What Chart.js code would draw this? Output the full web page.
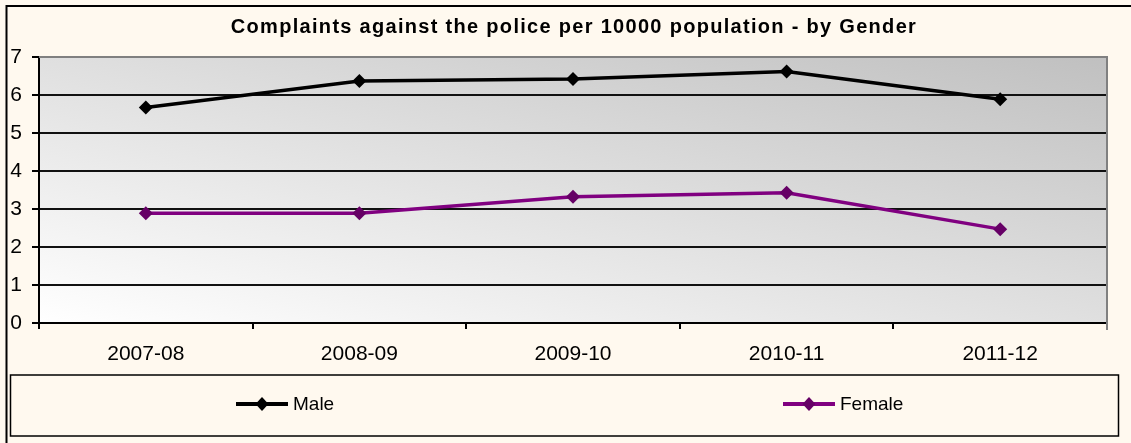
<!DOCTYPE html>
<html>
<head>
<meta charset="utf-8">
<script src="https://cdn.jsdelivr.net/npm/chart.js@4.4.0/dist/chart.umd.min.js"></script>
<style>
  html, body { margin: 0; padding: 0; background: #FFF9EF; }
  canvas { display: block; }
</style>
</head>
<body>
<canvas id="c" width="1131" height="443"></canvas>
<script>
const title = 'Complaints against the police per 10000 population - by Gender';
const categories = ['2007-08', '2008-09', '2009-10', '2010-11', '2011-12'];
const maleValues = [5.67, 6.37, 6.42, 6.62, 5.89];
const femaleValues = [2.89, 2.89, 3.32, 3.43, 2.47];
const seriesNames = ['Male', 'Female'];
const yTicks = [0, 1, 2, 3, 4, 5, 6, 7];

const FONT = "'Liberation Sans', Arial, sans-serif";

const decor = {
  id: 'decor',
  beforeDraw(chart) {
    const ctx = chart.ctx;
    const a = chart.chartArea;
    ctx.save();
    ctx.fillStyle = '#FFF9EF';
    ctx.fillRect(0, 0, chart.width, chart.height);
    // outer border
    ctx.strokeStyle = '#000';
    ctx.lineWidth = 2;
    ctx.beginPath();
    ctx.moveTo(6.5, chart.height + 2);
    ctx.lineTo(6.5, 6);
    ctx.lineTo(chart.width + 2, 6);
    ctx.stroke();
    // plot gradient
    ctx.save();
    ctx.translate(a.left, a.top);
    ctx.scale(a.right - a.left, a.bottom - a.top);
    const g = ctx.createLinearGradient(0, 1, 1, 0);
    g.addColorStop(0, '#FFFFFF');
    g.addColorStop(1, '#C0C0C0');
    ctx.fillStyle = g;
    ctx.fillRect(0, 0, 1, 1);
    ctx.restore();
    // title
    ctx.fillStyle = '#000';
    ctx.font = 'bold 20px ' + FONT;
    try { ctx.letterSpacing = '1.3px'; } catch (e) {}
    ctx.textAlign = 'center';
    ctx.textBaseline = 'alphabetic';
    ctx.fillText(title, (a.left + a.right) / 2 + 1, 33);
    try { ctx.letterSpacing = '0px'; } catch (e) {}
    ctx.restore();
  },
  beforeDatasetsDraw(chart) {
    const ctx = chart.ctx;
    const a = chart.chartArea;
    ctx.save();
    ctx.strokeStyle = '#808080';
    ctx.lineWidth = 2;
    ctx.beginPath();
    ctx.moveTo(a.left, a.top);
    ctx.lineTo(a.right, a.top);
    ctx.lineTo(a.right, a.bottom + 7);
    ctx.stroke();
    ctx.restore();
  },
  afterDraw(chart) {
    const ctx = chart.ctx;
    ctx.save();
    // legend box
    ctx.strokeStyle = '#000';
    ctx.lineWidth = 1.5;
    ctx.strokeRect(10.5, 375, 1108, 61);
    const starts = [236, 783];
    const ly = 404;
    chart.data.datasets.forEach((ds, i) => {
      const x0 = starts[i];
      ctx.strokeStyle = ds.borderColor;
      ctx.lineWidth = 4;
      ctx.beginPath();
      ctx.moveTo(x0, ly);
      ctx.lineTo(x0 + 52, ly);
      ctx.stroke();
      const cx = x0 + 26;
      ctx.fillStyle = ds.pointBackgroundColor;
      ctx.beginPath();
      ctx.moveTo(cx, ly - 7);
      ctx.lineTo(cx + 6.5, ly);
      ctx.lineTo(cx, ly + 7);
      ctx.lineTo(cx - 6.5, ly);
      ctx.closePath();
      ctx.fill();
      ctx.fillStyle = '#000';
      ctx.font = '19px ' + FONT;
      ctx.textAlign = 'left';
      ctx.textBaseline = 'middle';
      ctx.fillText(ds.label, x0 + 57, ly + 1);
    });
    ctx.restore();
  }
};

new Chart(document.getElementById('c'), {
  type: 'line',
  data: {
    labels: categories,
    datasets: [
      {
        label: seriesNames[0],
        data: maleValues,
        borderColor: '#000000',
        backgroundColor: '#000000',
        pointBackgroundColor: '#000000',
        pointBorderColor: '#000000',
        borderWidth: 3.5,
        pointStyle: 'rectRot',
        pointRadius: 7,
        pointBorderWidth: 0,
        tension: 0
      },
      {
        label: seriesNames[1],
        data: femaleValues,
        borderColor: '#800080',
        backgroundColor: '#660066',
        pointBackgroundColor: '#660066',
        pointBorderColor: '#660066',
        borderWidth: 3.5,
        pointStyle: 'rectRot',
        pointRadius: 7,
        pointBorderWidth: 0,
        tension: 0
      }
    ]
  },
  options: {
    responsive: false,
    animation: false,
    events: [],
    layout: { padding: { left: 0, top: 57, right: 24, bottom: 0 } },
    plugins: {
      legend: { display: false },
      title: { display: false },
      tooltip: { enabled: false }
    },
    scales: {
      x: {
        type: 'category',
        offset: true,
        grid: {
          offset: true,
          drawOnChartArea: false,
          drawTicks: true,
          tickLength: 6,
          color: '#000',
          lineWidth: 2
        },
        border: { display: true, color: '#000', width: 2 },
        ticks: {
          color: '#000',
          padding: 13,
          maxRotation: 0,
          font: { family: FONT, size: 21 }
        },
        afterFit(scale) { scale.height = 120; }
      },
      y: {
        min: yTicks[0],
        max: yTicks[yTicks.length - 1],
        afterBuildTicks(scale) { scale.ticks = yTicks.map(v => ({ value: v })); },
        grid: {
          drawTicks: true,
          tickLength: 7,
          color: (c) => (c.tick && c.tick.value === 7) ? '#808080' : '#111',
          tickColor: '#000',
          lineWidth: 2
        },
        border: { display: true, color: '#000', width: 2 },
        ticks: {
          color: '#000',
          padding: 10,
          font: { family: FONT, size: 21 }
        },
        afterFit(scale) { scale.width = 39; }
      }
    }
  },
  plugins: [decor]
});
</script>
</body>
</html>
